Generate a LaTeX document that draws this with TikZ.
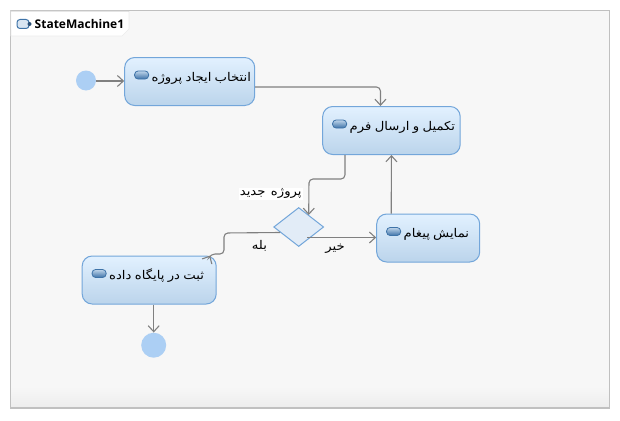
\documentclass[tikz,border=0pt]{standalone}
\usepackage{fontspec}
\usepackage{xcolor}
\usepackage{tikz}
\usetikzlibrary{shapes.geometric, arrows.meta, positioning, calc}
\TeXXeTstate=1
\setmainfont{Open Sans}
\newfontfamily\farsifont[Script=Arabic,FakeStretch=1.1,WordSpace=1.3]{DejaVu Sans}
\definecolor{frameColor}{RGB}{192, 192, 192}
\definecolor{paperColor}{RGB}{247, 247, 247}
\definecolor{shadeColor}{RGB}{236, 236, 236}
\definecolor{stateTop}{RGB}{226, 241, 255}
\definecolor{stateBottom}{RGB}{187, 212, 235}
\definecolor{stateLine}{RGB}{115, 166, 218}
\definecolor{dotColor}{RGB}{172, 207, 244}
\definecolor{wireColor}{RGB}{128, 128, 128}
\definecolor{pillDark}{RGB}{62, 115, 168}
\definecolor{pillLight}{RGB}{190, 212, 234}
\definecolor{diamondFill}{RGB}{226, 236, 247}
\newcommand{\fatext}[1]{{\farsifont\fontsize{12pt}{14pt}\selectfont\beginR #1\endR}}
\newcommand{\statetext}[1]{\hspace*{27pt}\fatext{#1}}

\begin{document}
\begin{tikzpicture}[
    x=1pt, y=-1pt,
    statebox/.style={rectangle, rounded corners=10pt, draw=stateLine, line width=1pt, top color=stateTop, bottom color=stateBottom, inner sep=0pt, text width=#1, minimum width=#1, minimum height=48pt, text height=23.5pt, text depth=24.5pt, align=left},
    pill/.style={rectangle, rounded corners=3.5pt, draw=pillDark, line width=0.8pt, top color=pillLight, bottom color=pillDark, inner sep=0pt, minimum width=14pt, minimum height=8pt},
    dot/.style={circle, fill=dotColor, inner sep=0pt, minimum size=#1},
    flowlabel/.style={inner sep=1pt},
    arrow/.style={-{Straight Barb[length=6pt, width=11pt]}, draw=wireColor, line width=1.1pt, rounded corners=4pt}
]
    \useasboundingbox (0,0) rectangle (620,420);
    \fill[white] (0,0) rectangle (620,420);

    % Frame
    \node[rectangle, fill=paperColor, inner sep=0pt, minimum width=598pt, minimum height=397pt] (frame) at (310,209.5) {};
    \node[rectangle, top color=paperColor, bottom color=shadeColor, inner sep=0pt, minimum width=598pt, minimum height=22pt, above=0pt of frame.south] (band) {};
    \draw[frameColor, line width=1pt] (frame.south west) rectangle (frame.north east);
    \draw[frameColor, line width=1.5pt] (band.south west) -- (band.south east);
    \path[fill=white, draw=shadeColor, line width=0.6pt] (frame.north west) -- (129,11) -- (129,29) -- (122,36) -- (11,36) -- cycle;
    \draw[frameColor, line width=1pt] (frame.north west) -- (129,11);
    \node[rectangle, rounded corners=3pt, draw=pillDark, line width=1pt, fill=pillLight!60, inner sep=0pt, minimum width=12pt, minimum height=9pt] (tabicon) at (23,24) {};
    \node[circle, fill=pillDark!70!black, inner sep=0pt, minimum size=4pt] (tabdot) at (tabicon.east) {};
    \node[inner sep=0pt, font=\bfseries\fontsize{12pt}{14pt}\selectfont, anchor=west] (title) at (34.5,24) {StateMachine1};

    % States
    \node[dot=20pt] (start) at (86,80.5) {};
    \node[statebox=130pt, right=28pt of start, yshift=-1pt] (select) {\statetext{انتخاب ایجاد پروژه}};
    \node[statebox=137.5pt, below right=0pt and 67pt of select.south east] (fill) {\statetext{تکمیل و ارسال فرم}};
    \node[statebox=103pt, below right=58.5pt and 54pt of fill.south west] (notify) {\statetext{نمایش پیغام}};
    \node[diamond, draw=stateLine, line width=1pt, fill=diamondFill, inner sep=0pt, minimum width=50pt, minimum height=39pt, left=52pt of notify, yshift=11pt] (choice) {};
    \node[statebox=134pt, below left=28.5pt and 56.5pt of choice.west] (store) {\statetext{ثبت در پایگاه داده}};
    \node[dot=25pt, below=28pt of store, xshift=4.5pt] (finish) {};

    % Icons
    \node[pill, right=10pt of select.west, yshift=6.5pt] (pselect) {};
    \node[pill, right=10pt of fill.west, yshift=6.5pt] (pfill) {};
    \node[pill, right=10pt of notify.west, yshift=6.5pt] (pnotify) {};
    \node[pill, right=10pt of store.west, yshift=6.5pt] (pstore) {};

    % Arrows
    \draw[arrow] ($(start.east)+(0,0.5)$) -- ($(select.west)+(0,-0.5)$);
    \draw[arrow] ($(select.east)+(0,5.5)$) -| ($(fill.north)+(-11,0)$);
    \draw[arrow] ($(fill.south)+(-46.5,0)$) |- (309,179) -- ($(choice.north)+(10,8)$);
    \draw[arrow] ($(choice.west)+(7,5.5)$) -- (224,233) -- (224,254) -- (211,254) -- ($(store.north)+(61,0)$);
    \draw[arrow] ($(choice.east)+(-17,10.5)$) -- ($(notify.west)+(0,-0.5)$);
    \draw[arrow] ($(notify.north)+(-37,0)$) -- (fill.south);
    \draw[arrow] ($(store.south)+(4.5,0)$) -- (finish);

    % Labels
    \node[flowlabel, fill=white, above=7pt of choice, xshift=-28pt] (lnew) {\fatext{پروژه جدید}};
    \node[flowlabel, below left=12pt and 5pt of choice.west] (lyes) {\fatext{بله}};
    \node[flowlabel, below right=16pt and 0pt of choice.east] (lno) {\fatext{خیر}};
\end{tikzpicture}
\end{document}
